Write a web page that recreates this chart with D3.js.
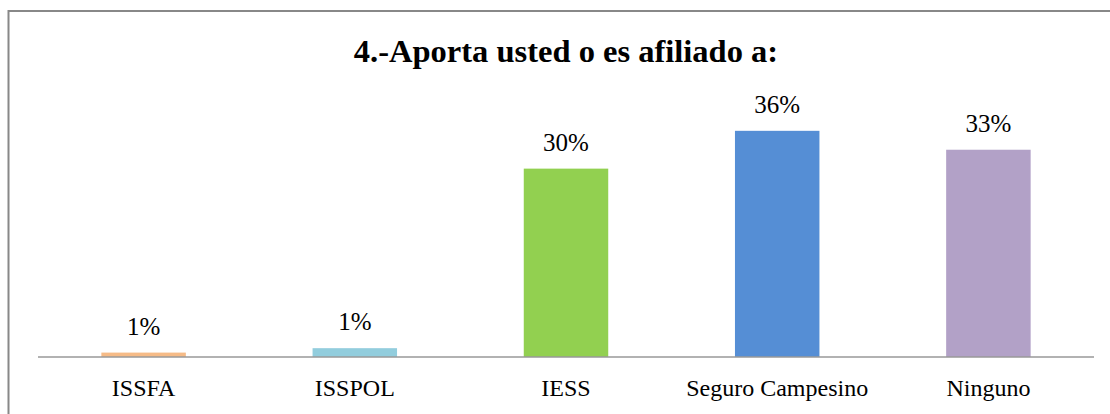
<!DOCTYPE html>
<html>
<head>
<meta charset="utf-8">
<script src="https://cdn.jsdelivr.net/npm/d3@7"></script>
<style>
  html, body { margin: 0; padding: 0; background: #fff; }
  svg { display: block; }
  svg text { font-family: "Liberation Serif", "Times New Roman", "DejaVu Serif", serif; }
</style>
</head>
<body>
<script>
// data
const categories = ["ISSFA", "ISSPOL", "IESS", "Seguro Campesino", "Ninguno"];
const values = [0.007, 0.014, 0.299, 0.359, 0.329];
const colors = ["#f6bb87", "#92cddd", "#92d050", "#558ed5", "#b2a1c7"];
const title = "4.-Aporta usted o es afiliado a:";

const width = 1110, height = 414;
const font = "Liberation Serif";

const svg = d3.select("body").append("svg")
  .attr("width", width)
  .attr("height", height);

// chart frame (only left and top edges show in the crop)
svg.append("rect")
  .attr("x", 8.5).attr("y", 11)
  .attr("width", width + 20).attr("height", height + 20)
  .attr("fill", "none")
  .attr("stroke", "#888")
  .attr("stroke-width", 2);

svg.append("text")
  .attr("x", 566).attr("y", 62)
  .attr("text-anchor", "middle")
  .attr("font-family", font)
  .attr("font-weight", "bold")
  .attr("font-size", 32.5)
  .attr("fill", "#000")
  .text(title);

const x = d3.scaleBand()
  .domain(categories)
  .range([38, 1094])
  .paddingInner(0.6)
  .paddingOuter(0.3);

const y = d3.scaleLinear()
  .domain([0, 0.40])
  .range([357, 105]);

const g = svg.append("g");

g.selectAll("rect.bar")
  .data(values)
  .enter()
  .append("rect")
  .attr("class", "bar")
  .attr("x", (d, i) => x(categories[i]))
  .attr("y", d => y(d))
  .attr("width", x.bandwidth())
  .attr("height", d => y(0) - y(d))
  .attr("fill", (d, i) => colors[i]);

// baseline
svg.append("line")
  .attr("x1", 38).attr("x2", 1094)
  .attr("y1", y(0)).attr("y2", y(0))
  .attr("stroke", "#999")
  .attr("stroke-width", 1.5);

const pct = d3.format(".0%");
g.selectAll("text.val")
  .data(values)
  .enter()
  .append("text")
  .attr("class", "val")
  .attr("x", (d, i) => x(categories[i]) + x.bandwidth() / 2)
  .attr("y", d => y(d) - 18)
  .attr("text-anchor", "middle")
  .attr("font-family", font)
  .attr("font-size", 25)
  .attr("fill", "#000")
  .text(d => pct(d));

const axis = d3.axisBottom(x).tickSize(0).tickPadding(22);
const ax = svg.append("g")
  .attr("transform", `translate(0,${y(0)})`)
  .call(axis)
  .attr("font-family", font)
  .attr("font-size", 24);
ax.select(".domain").remove();
ax.selectAll("text").attr("fill", "#000");
</script>
</body>
</html>
